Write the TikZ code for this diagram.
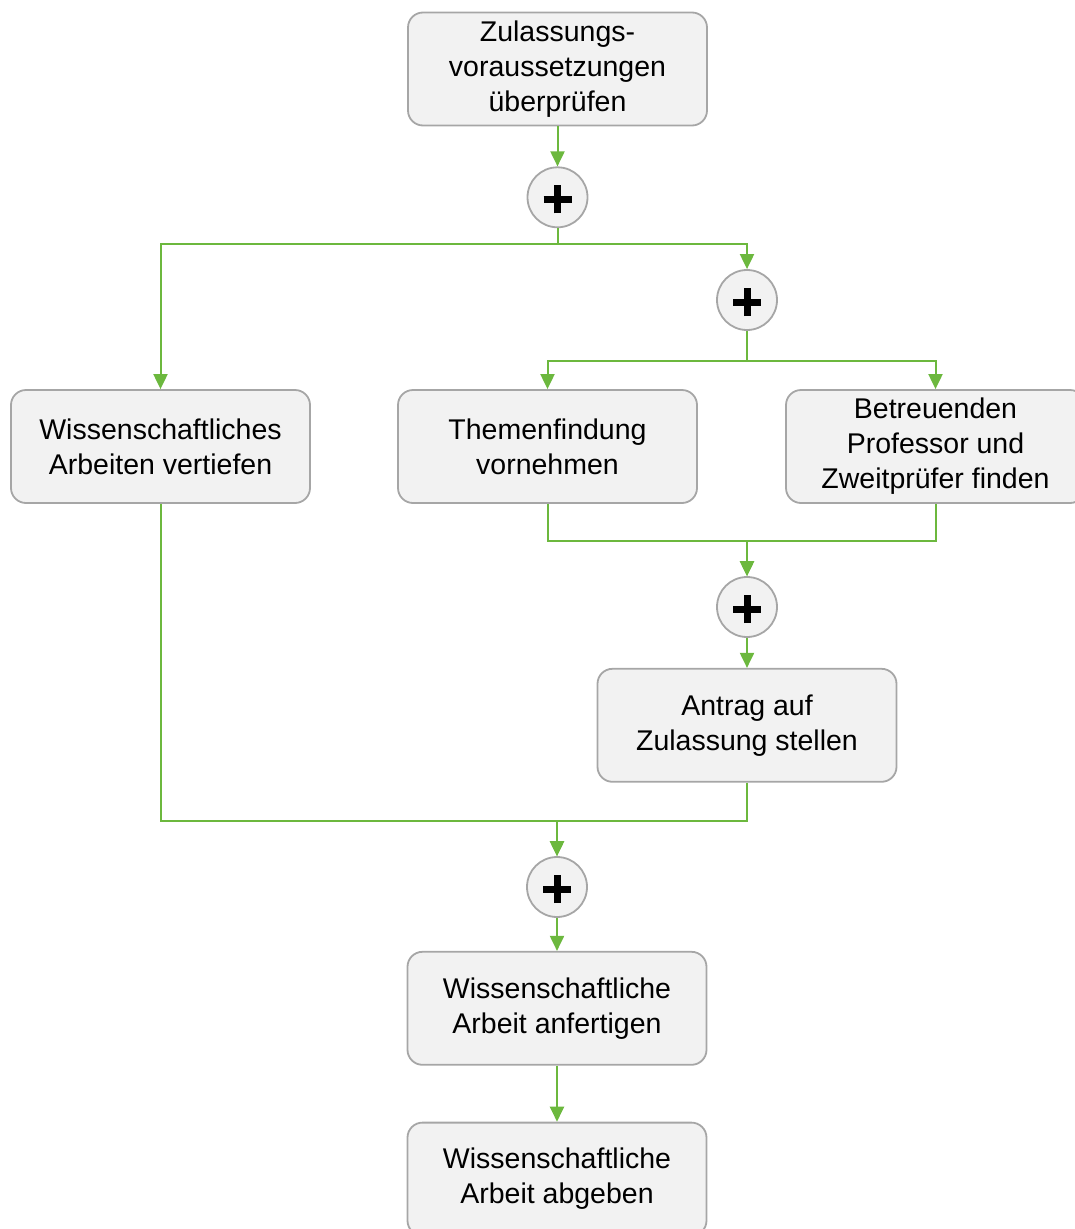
\documentclass[tikz,border=0pt]{standalone}
\usepackage{fontspec}
\setmainfont{Liberation Sans}
\usetikzlibrary{positioning,arrows.meta}
\definecolor{FlowGreen}{RGB}{108,184,62}
\definecolor{BoxGray}{RGB}{166,166,166}
\definecolor{BoxFill}{RGB}{242,242,242}

\begin{document}
\begin{tikzpicture}[
x=1pt,y=-1pt,
node distance=40pt,
task/.style={rectangle,rounded corners=15pt,draw=BoxGray,fill=BoxFill,line width=1.8pt,
minimum width=299pt,minimum height=113pt,align=center,inner sep=2pt,
font=\fontsize{28.5}{35}\selectfont},
gate/.style={circle,draw=BoxGray,fill=BoxFill,line width=1.8pt,minimum size=60pt,inner sep=0pt,
path picture={\draw[line width=7pt,black]
([yshift=-2pt]path picture bounding box.center) +(-14pt,0) -- +(14pt,0)
+(0,-14pt) -- +(0,14pt);}},
arrow/.style={-{Triangle[length=15pt,width=14pt]},line width=2pt,draw=FlowGreen}
]
\useasboundingbox (0,0) rectangle (1075,1229);
\node[task] (z) at (557.5,69) {Zulassungs-\\voraussetzungen\\überprüfen};
\node[gate,below=of z] (g1) {};
\node[gate] (g2) at (747,300) {};
\node[task] (w) at (160.5,446.5) {Wissenschaftliches\\Arbeiten vertiefen};
\node[task] (t) at (547.5,446.5) {Themenfindung\\vornehmen};
\node[task] (b) at (935.5,446.5) {Betreuenden\\Professor und\\Zweitprüfer finden};
\node[gate] (g3) at (747,607) {};
\node[task,below=30pt of g3] (a) {Antrag auf\\Zulassung stellen};
\node[gate] (g4) at (557,887) {};
\node[task,below=33pt of g4] (f) {Wissenschaftliche\\Arbeit anfertigen};
\node[task,below=56pt of f] (e) {Wissenschaftliche\\Arbeit abgeben};
\draw[arrow] (z)--(g1);
\draw[arrow] (g1.south)--++(0,16)-|(w.north);
\draw[arrow] (g1.south)--++(0,16)-|(g2.north);
\draw[arrow] (g2.south)--++(0,30)-|(t.north);
\draw[arrow] (g2.south)--++(0,30)-|(b.north);
\draw[arrow] (t.south)--++(0,37)-|(g3.north);
\draw[arrow] (b.south)--++(0,37)-|(g3.north);
\draw[arrow] (g3)--(a);
\draw[arrow] (w.south)--++(0,317)-|(g4.north);
\draw[arrow] (a.south)--++(0,38)-|(g4.north);
\draw[arrow] (g4)--(f); \draw[arrow] (f)--(e);
\end{tikzpicture}
\end{document}
